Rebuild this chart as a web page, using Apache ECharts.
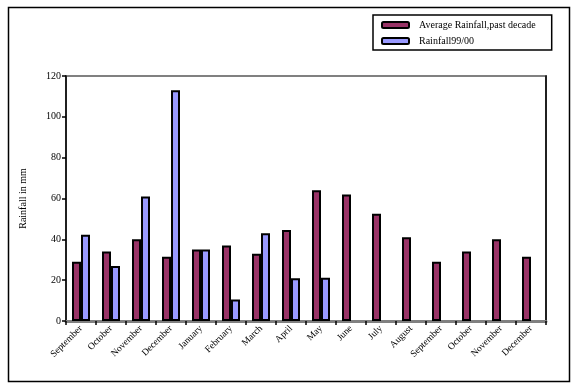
<!DOCTYPE html>
<html>
<head>
<meta charset="utf-8">
<script src="https://cdn.jsdelivr.net/npm/echarts@6/dist/echarts.min.js"></script>
<style>html,body{margin:0;padding:0;background:#fff;}#c{width:572px;height:384px;}</style>
</head>
<body>
<div id="c"></div>
<script>
const categories = ['September','October','November','December','January','February','March','April','May','June','July','August','September','October','November','December'];
const avgRainfall = [29, 34, 40, 31.5, 35, 37, 33, 44.6, 64, 62, 52.5, 41, 29, 34, 40, 31.5];
const rainfall9900 = [42.3, 27, 61, 113, 35, 10.5, 43, 21, 21.2, null, null, null, null, null, null, null];
const yTicks = { min: 0, max: 120, interval: 20 };

const font = 'Liberation Serif';
const chart = echarts.init(document.getElementById('c'));
chart.setOption({
  animation: false,
  backgroundColor: '#fff',
  graphic: [{
    type: 'rect', left: 6, top: 5,
    shape: { width: 561, height: 374 },
    style: { fill: 'none', stroke: '#000', lineWidth: 1.5 },
    silent: true
  }],
  legend: {
    left: 373, top: 15,
    orient: 'vertical',
    padding: [5, 16, 4, 8],
    itemGap: 6,
    itemWidth: 27, itemHeight: 6,
    borderColor: '#000', borderWidth: 1.5,
    textStyle: { fontFamily: font, fontSize: 10, color: '#000', padding: [0, 0, 0, 5] },
    itemStyle: { borderColor: '#000', borderWidth: 2 },
    data: ['Average Rainfall,past decade', 'Rainfall99/00']
  },
  grid: {
    left: 66, right: 26, top: 76, bottom: 63,
    show: true, borderColor: '#808080', borderWidth: 2
  },
  xAxis: {
    type: 'category',
    data: categories,
    axisLine: { lineStyle: { color: '#808080', width: 3 } },
    axisTick: { show: true, alignWithLabel: false, length: 4, lineStyle: { color: '#000', width: 1.5 } },
    axisLabel: { rotate: 45, interval: 0, fontFamily: font, fontSize: 9.5, color: '#000', margin: 6 }
  },
  yAxis: [{
    type: 'value',
    min: yTicks.min, max: yTicks.max, interval: yTicks.interval,
    name: 'Rainfall in mm',
    nameLocation: 'middle',
    nameGap: 38,
    nameTextStyle: { fontFamily: font, fontSize: 10, color: '#000' },
    axisLine: { show: true, lineStyle: { color: '#000', width: 1.5 } },
    axisTick: { show: true, length: 4, lineStyle: { color: '#000', width: 1.5 } },
    axisLabel: { fontFamily: font, fontSize: 10, color: '#000', margin: 5 },
    splitLine: { show: false }
  }, {
    type: 'value',
    position: 'right',
    min: yTicks.min, max: yTicks.max, interval: yTicks.interval,
    axisLine: { show: true, onZero: false, lineStyle: { color: '#000', width: 1.5 } },
    axisTick: { show: false },
    axisLabel: { show: false },
    splitLine: { show: false }
  }],
  series: [{
    name: 'Average Rainfall,past decade',
    type: 'bar',
    data: avgRainfall,
    barGap: '0%',
    barCategoryGap: '40%',
    itemStyle: { color: '#993366', borderColor: '#000', borderWidth: 2 }
  }, {
    name: 'Rainfall99/00',
    type: 'bar',
    data: rainfall9900,
    itemStyle: { color: '#9999FF', borderColor: '#000', borderWidth: 2 }
  }]
});
</script>
</body>
</html>
